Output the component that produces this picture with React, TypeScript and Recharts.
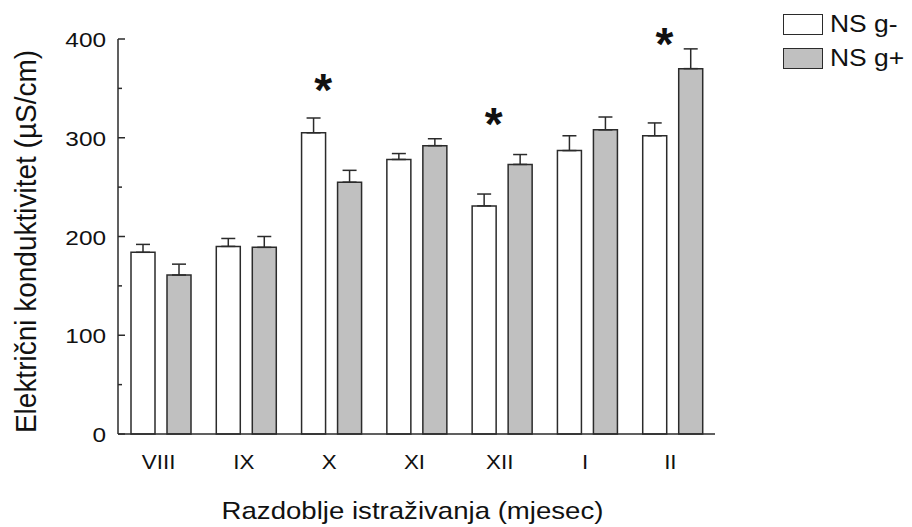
import React from "react";
import { Bar, BarChart, ErrorBar, Legend, ReferenceDot, XAxis, YAxis } from "recharts";

const months = ["VIII", "IX", "X", "XI", "XII", "I", "II"];
const gMinus = [184, 190, 305, 278, 231, 287, 302];
const gMinusErr = [8, 8, 15, 6, 12, 15, 13];
const gPlus = [161, 189, 255, 292, 273, 308, 370];
const gPlusErr = [11, 11, 12, 7, 10, 13, 20];
// where the significance asterisks sit (null = none)
const stars: (number | null)[] = [null, null, 358, null, 324, null, 405];
const yTicks = [0, 50, 100, 150, 200, 250, 300, 350, 400];
const seriesNames = ["NS g-", "NS g+"];

const FONT = "'Liberation Sans', Arial, sans-serif";
const INK = "#2b2b2b";

const data = months.map((m, i) => ({
  month: m,
  gm: gMinus[i],
  gmErr: [0, gMinusErr[i]],
  gp: gPlus[i],
  gpErr: [0, gPlusErr[i]],
}));

const fills: Record<string, string> = { "NS g-": "#ffffff", "NS g+": "#c0c0c0" };

function YTick(props: any) {
  const { x, y, payload } = props;
  const major = payload.value % 100 === 0;
  const axisX = x + 12;
  return (
    <g>
      <line x1={axisX} x2={axisX + (major ? 7 : 4)} y1={y} y2={y} stroke={INK} strokeWidth={1.5} />
      {major && (
        <text
          transform={`translate(${x},${y + 8}) scale(1.25,1)`}
          textAnchor="end"
          fontFamily={FONT}
          fontSize={19.5}
          fill="#111"
        >
          {payload.value}
        </text>
      )}
    </g>
  );
}

function XTick(props: any) {
  const { x, y, payload } = props;
  return (
    <text
      transform={`translate(${x - 2},${y + 33}) scale(1.12,1)`}
      textAnchor="middle"
      fontFamily={FONT}
      fontSize={20}
      fill="#111"
    >
      {payload.value}
    </text>
  );
}

function Star(props: any) {
  const { cx, cy } = props;
  return (
    <text x={cx - 8} y={cy + 26} textAnchor="middle" fontFamily={FONT} fontWeight="bold" fontSize={46} fill="#111">
      *
    </text>
  );
}

function LegendBox(props: any) {
  const items = [...(props.payload ?? [])].sort(
    (a: any, b: any) => seriesNames.indexOf(a.value) - seriesNames.indexOf(b.value)
  );
  return (
    <div style={{ fontFamily: FONT }}>
      {items.map((it: any) => (
        <div key={it.value} style={{ display: "flex", alignItems: "center", height: 34 }}>
          <div style={{ width: 38, height: 19, background: fills[it.value], border: `1.5px solid ${INK}` }} />
          <span
            style={{
              marginLeft: 7,
              fontSize: 23,
              color: "#111",
              display: "inline-block",
              transform: "scaleX(1.15)",
              transformOrigin: "left center",
            }}
          >
            {it.value}
          </span>
        </div>
      ))}
    </div>
  );
}

export default function App() {
  return (
    <div style={{ position: "absolute", left: 0, top: 0, width: 912, height: 527, background: "#fff" }}>
      <BarChart
        width={912}
        height={527}
        data={data}
        margin={{ top: 39, right: 197, bottom: 0, left: 0 }}
        barSize={24}
        barGap={12}
      >
        <XAxis
          dataKey="month"
          height={93}
          tickLine={false}
          tickSize={0}
          tick={<XTick />}
          axisLine={{ stroke: INK, strokeWidth: 1.5 }}
          label={{
            content: (p: any) => {
              const vb = p.viewBox;
              return (
                <text
                  transform={`translate(${vb.x + vb.width / 2 - 4},${vb.y + 85}) scale(1.15,1)`}
                  textAnchor="middle"
                  fontFamily={FONT}
                  fontSize={24}
                  fill="#111"
                >
                  Razdoblje istraživanja (mjesec)
                </text>
              );
            },
          }}
        />
        <YAxis
          width={118}
          domain={[0, 400]}
          ticks={yTicks}
          interval={0}
          tickLine={false}
          tickSize={0}
          tickMargin={12}
          tick={<YTick />}
          axisLine={{ stroke: INK, strokeWidth: 1.5 }}
          label={{
            content: (p: any) => {
              const vb = p.viewBox;
              return (
                <text
                  transform={`translate(36,${vb.y + vb.height / 2 + 5}) scale(1.08,1) rotate(-90)`}
                  textAnchor="middle"
                  fontFamily={FONT}
                  fontSize={28}
                  fill="#111"
                >
                  Električni konduktivitet (µS/cm)
                </text>
              );
            },
          }}
        />
        <Legend
          layout="horizontal"
          verticalAlign="middle"
          align="center"
          content={<LegendBox />}
          wrapperStyle={{ position: "absolute", left: 783, top: 7, width: 130 }}
        />
        <Bar dataKey="gm" name="NS g-" fill="#ffffff" stroke={INK} strokeWidth={1.5} isAnimationActive={false}>
          <ErrorBar dataKey="gmErr" direction="y" width={7} stroke={INK} strokeWidth={1.5} />
        </Bar>
        <Bar dataKey="gp" name="NS g+" fill="#c0c0c0" stroke={INK} strokeWidth={1.5} isAnimationActive={false}>
          <ErrorBar dataKey="gpErr" direction="y" width={7} stroke={INK} strokeWidth={1.5} />
        </Bar>
        {stars.map((v, i) =>
          v == null ? null : (
            <ReferenceDot key={months[i]} x={months[i]} y={v} ifOverflow="visible" shape={<Star />} />
          )
        )}
      </BarChart>
    </div>
  );
}
